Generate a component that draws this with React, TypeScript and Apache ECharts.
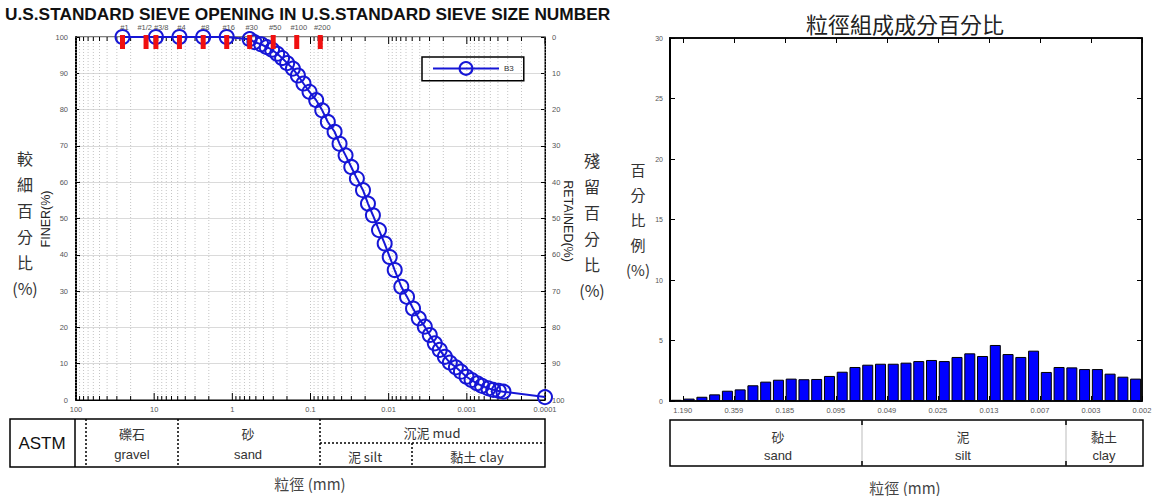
import React, { useEffect, useRef } from 'react';
import * as echarts from 'echarts';

const FONT = "'Liberation Sans', Arial, 'Noto Sans CJK TC', sans-serif";
const CJK = "'Noto Sans CJK TC', 'Liberation Sans', sans-serif";

// ---- left chart: grain size distribution curve ----
const sieveNames = ['#1', '#1/2', '#3/8', '#4', '#8', '#16', '#30', '#50', '#100', '#200'];
const sieveSizes = [25.4, 12.7, 9.5, 4.75, 2.36, 1.18, 0.6, 0.3, 0.15, 0.075];

const finerSize = [25.4, 9.5, 4.75, 2.36, 1.18, 0.6, 0.522, 0.428, 0.363, 0.31, 0.267, 0.231, 0.199, 0.168, 0.145,
  0.123, 0.103, 0.0846, 0.0708, 0.06, 0.0492, 0.0425, 0.0356, 0.0301, 0.0255, 0.0213, 0.0184, 0.0159, 0.0133,
  0.01125, 0.0097, 0.00837, 0.00689, 0.00582, 0.00488, 0.00412, 0.00345, 0.00298, 0.00257, 0.00222, 0.00191,
  0.00165, 0.00138, 0.00119, 0.00101, 0.00087, 0.00074, 0.00064, 0.00053, 0.00046, 0.00039, 0.00034, 0.0001];
const finerPct = [100, 100, 100, 100, 100, 99.4, 98.6, 98.0, 97.2, 96.5, 95.4, 94.2, 92.8, 91.3, 89.4, 87.2, 84.9,
  82.6, 79.8, 76.6, 73.9, 70.6, 67.4, 64.2, 61.0, 57.8, 54.1, 50.9, 46.8, 43.1, 39.4, 35.8, 31.2, 28.4, 25.2, 22.5,
  20.2, 17.9, 15.6, 13.8, 11.9, 10.3, 9.0, 7.8, 6.4, 5.5, 4.6, 3.9, 3.2, 2.8, 2.5, 2.3, 0.8];

const leftXTicks = [100, 10, 1, 0.1, 0.01, 0.001, 0.0001];
const leftXTickLabels = ['100', '10', '1', '0.1', '0.01', '0.001', '0.0001'];
const decadeExps = [-4, -3, -2, -1, 0, 1];

// ---- right chart: composition histogram ----
const binPercent = [0.1, 0.2, 0.35, 0.55, 0.85, 0.96, 1.3, 1.6, 1.76, 1.85, 1.8, 1.82, 2.07, 2.42, 2.81, 3.0, 3.08,
  3.08, 3.17, 3.3, 3.39, 3.3, 3.64, 3.94, 3.72, 4.63, 3.88, 3.64, 4.16, 2.4, 2.81, 2.78, 2.64, 2.64, 2.26, 2.01, 1.85];
const binTickLabels = ['1.190', '0.359', '0.185', '0.095', '0.049', '0.025', '0.013', '0.007', '0.003', '0.002'];
const binTickStep = 4;

const minorGrid: number[][] = [];
decadeExps.forEach((e) => {
  for (let m = 1; m <= 9; m++) minorGrid.push([m * Math.pow(10, e), 0, m === 1 ? 1 : 0]);
});
minorGrid.push([100, 0, 1]);

const binTickPos = binTickLabels.map((_, i) => i * binTickStep);

function leftLabel(v: number) {
  const idx = leftXTicks.findIndex((t) => Math.abs(Math.log10(t) - Math.log10(v)) < 1e-6);
  return idx >= 0 ? leftXTickLabels[idx] : '';
}
function binLabel(v: number) {
  const idx = binTickPos.findIndex((p) => Math.abs(p - v) < 1e-6);
  return idx >= 0 ? binTickLabels[idx] : '';
}

const txt = (x: number, y: number, text: string, size: number, extra: any = {}) => ({
  type: 'text', x, y, silent: true,
  style: { text, fontSize: size, fontFamily: extra.family || FONT, fill: extra.fill || '#333',
    align: extra.align || 'center', verticalAlign: extra.va || 'middle', fontWeight: extra.weight || 'normal',
    lineHeight: extra.lh },
  rotation: extra.rot || 0,
});
const ln = (x1: number, y1: number, x2: number, y2: number, extra: any = {}) => ({
  type: 'line', silent: true, shape: { x1, y1, x2, y2 },
  style: { stroke: extra.stroke || '#000', lineWidth: extra.w || 1.5, lineDash: extra.dash },
});

const graphics: any[] = [
  txt(5, 14, 'U.S.STANDARD SIEVE OPENING IN U.S.STANDARD SIEVE SIZE NUMBER', 17.3, { align: 'left', weight: 'bold', fill: '#111' }),
  txt(905, 23, '粒徑組成成分百分比', 22, { family: CJK, fill: '#222' }),
  // left chart side labels
  txt(25, 145, '較\n細\n百\n分\n比\n(%)', 16, { family: CJK, va: 'top', lh: 26, fill: '#333' }),
  txt(46, 219, 'FINER(%)', 12.5, { rot: Math.PI / 2, fill: '#222' }),
  txt(568, 221, 'RETAINED(%)', 12.5, { rot: -Math.PI / 2, fill: '#222' }),
  txt(592, 147, '殘\n留\n百\n分\n比\n(%)', 16, { family: CJK, va: 'top', lh: 26, fill: '#333' }),
  txt(638, 157, '百\n分\n比\n例\n(%)', 15, { family: CJK, va: 'top', lh: 25, fill: '#333' }),
  // left ASTM table
  { type: 'rect', silent: true, shape: { x: 10, y: 419, width: 535, height: 48 }, style: { fill: 'none', stroke: '#000', lineWidth: 1.5 } },
  ln(75, 419, 75, 467),
  ln(86, 419, 86, 467, { dash: [2, 2] }),
  ln(178, 419, 178, 467, { dash: [2, 2] }),
  ln(320, 419, 320, 467, { dash: [2, 2] }),
  ln(412, 443, 412, 467, { dash: [2, 2] }),
  ln(320, 443, 545, 443, { dash: [2, 2] }),
  txt(42, 443, 'ASTM', 17, { fill: '#111' }),
  txt(132, 433, '礫石', 13, { family: CJK }),
  txt(132, 454, 'gravel', 13),
  txt(248, 433, '砂', 13, { family: CJK }),
  txt(248, 454, 'sand', 13),
  txt(432, 432, '沉泥 mud', 13, { family: CJK }),
  txt(365, 456, '泥 silt', 13, { family: CJK }),
  txt(477, 456, '黏土 clay', 13, { family: CJK }),
  txt(310, 483, '粒徑 (mm)', 15, { family: CJK, fill: '#444' }),
  // right table
  { type: 'rect', silent: true, shape: { x: 670, y: 420, width: 473, height: 46 }, style: { fill: 'none', stroke: '#000', lineWidth: 1.5 } },
  ln(862, 420, 862, 466, { stroke: '#bbb', w: 1 }),
  ln(1066, 420, 1066, 466, { stroke: '#bbb', w: 1 }),
  ln(862, 420, 862, 425), ln(862, 461, 862, 466),
  ln(1066, 420, 1066, 425), ln(1066, 461, 1066, 466),
  txt(778, 436, '砂', 13, { family: CJK }),
  txt(778, 455, 'sand', 13),
  txt(963, 436, '泥', 13, { family: CJK }),
  txt(963, 455, 'silt', 13),
  txt(1104, 436, '黏土', 13, { family: CJK }),
  txt(1104, 455, 'clay', 13),
  txt(905, 487, '粒徑 (mm)', 15, { family: CJK, fill: '#444' }),
];

const smallLabel = { fontSize: 7.5, color: '#555', fontFamily: FONT };

const option: any = {
  animation: false,
  backgroundColor: '#fff',
  textStyle: { fontFamily: FONT },
  grid: [
    { left: 76, top: 37, width: 469, height: 363, show: true, borderColor: '#000', borderWidth: 1 },
    { left: 670, top: 38, width: 472, height: 363, show: true, borderColor: '#000', borderWidth: 1.5 },
  ],
  legend: {
    data: ['B3'], left: 422, top: 57, orient: 'horizontal',
    borderColor: '#000', borderWidth: 1.5, padding: [4, 10, 5, 10],
    itemWidth: 66, itemHeight: 16, itemGap: 5,
    textStyle: { fontSize: 8, color: '#333' },
  },
  xAxis: [
    {
      gridIndex: 0, type: 'log', logBase: 10, min: 0.0001, max: 100, inverse: true, splitNumber: 6,
      axisLine: { onZero: false, lineStyle: { color: '#000', width: 1 } }, axisTick: { show: false }, splitLine: { show: false },
      axisLabel: { ...smallLabel, margin: 6, formatter: (v: number) => leftLabel(v) },
    },
    {
      gridIndex: 1, type: 'value', min: -1, max: 36,
      axisLine: { onZero: false, lineStyle: { color: '#000', width: 1.5 } },
      axisTick: { inside: true, length: 5, customValues: binTickPos, lineStyle: { color: '#000' } },
      axisLabel: { ...smallLabel, margin: 6, customValues: binTickPos, formatter: (v: number) => binLabel(v) },
      splitLine: { show: false },
    },
    {
      gridIndex: 1, type: 'value', min: -1, max: 36, position: 'top',
      axisLine: { onZero: false, lineStyle: { color: '#000', width: 1.5 } },
      axisTick: { inside: true, length: 5, customValues: binTickPos, lineStyle: { color: '#000' } },
      axisLabel: { show: false }, splitLine: { show: false },
    },
  ],
  yAxis: [
    {
      gridIndex: 0, type: 'value', min: 0, max: 100, interval: 10, position: 'left',
      axisLine: { show: true, onZero: false, lineStyle: { color: '#000', width: 2 } },
      axisTick: { inside: true, length: 4, lineStyle: { color: '#000' } },
      axisLabel: { ...smallLabel, margin: 8 },
      splitLine: { show: true, lineStyle: { color: '#dadada', width: 1 } },
    },
    {
      gridIndex: 0, type: 'value', min: 0, max: 100, interval: 10, position: 'right', inverse: true,
      axisLine: { show: true, onZero: false, lineStyle: { color: '#000', width: 1 } },
      axisTick: { inside: true, length: 4, lineStyle: { color: '#000' } },
      axisLabel: { ...smallLabel, margin: 7 },
      splitLine: { show: false },
    },
    {
      gridIndex: 1, type: 'value', min: 0, max: 30, interval: 5, position: 'left',
      axisLine: { show: true, onZero: false, lineStyle: { color: '#000', width: 2 } },
      axisTick: { inside: true, length: 5, lineStyle: { color: '#000' } },
      axisLabel: { ...smallLabel, fontSize: 7, margin: 7 },
      splitLine: { show: false },
    },
    {
      gridIndex: 1, type: 'value', min: 0, max: 30, interval: 5, position: 'right',
      axisLine: { show: true, onZero: false, lineStyle: { color: '#000', width: 1.5 } },
      axisTick: { inside: true, length: 5, lineStyle: { color: '#000' } },
      axisLabel: { show: false }, splitLine: { show: false },
    },
  ],
  series: [
    {
      type: 'custom', xAxisIndex: 0, yAxisIndex: 0, z: 1, silent: true, clip: false,
      data: minorGrid,
      renderItem: (params: any, api: any) => {
        const x = api.value(0);
        const top = api.coord([x, 100]);
        const bot = api.coord([x, 0]);
        const major = api.value(2) === 1;
        const tl = major ? 7 : 4;
        return {
          type: 'group', children: [
            { type: 'line', shape: { x1: top[0], y1: top[1], x2: bot[0], y2: bot[1] }, style: { stroke: '#c4c4c4', lineWidth: 1, lineDash: [1, 2] } },
            { type: 'line', shape: { x1: bot[0], y1: bot[1], x2: bot[0], y2: bot[1] - tl }, style: { stroke: '#000', lineWidth: 1 } },
            { type: 'line', shape: { x1: top[0], y1: top[1], x2: top[0], y2: top[1] + tl }, style: { stroke: '#000', lineWidth: 1 } },
          ],
        };
      },
    },
    {
      type: 'line', name: 'B3', xAxisIndex: 0, yAxisIndex: 0, z: 3,
      data: finerSize.map((s, i) => [s, finerPct[i]]),
      symbol: 'circle', symbolSize: 14,
      lineStyle: { color: '#1616d6', width: 2 },
      itemStyle: { color: 'rgba(255,255,255,0)', borderColor: '#1616d6', borderWidth: 2 },
    },
    {
      type: 'custom', xAxisIndex: 0, yAxisIndex: 0, z: 5, silent: true, clip: false,
      data: sieveSizes.map((s, i) => [s, 100, i]),
      renderItem: (params: any, api: any) => {
        const p = api.coord([api.value(0), 100]);
        const name = sieveNames[api.value(2)];
        let align = 'center';
        let dx = 2;
        if (name === '#1/2') { align = 'right'; dx = 6; }
        if (name === '#3/8') { align = 'left'; dx = -2; }
        return {
          type: 'group', children: [
            { type: 'rect', shape: { x: p[0] - 2.5, y: p[1] - 2, width: 5, height: 14 }, style: { fill: '#f01010' } },
            { type: 'text', style: { text: name, x: p[0] + dx, y: p[1] - 6, fill: '#555', fontSize: 7.5, fontFamily: FONT, align, verticalAlign: 'bottom' } },
          ],
        };
      },
    },
    {
      type: 'bar', xAxisIndex: 1, yAxisIndex: 2,
      data: binPercent.map((v, i) => [i - 0.5, v]),
      barWidth: 11,
      itemStyle: { color: '#0000ff', borderColor: '#000', borderWidth: 1 },
    },
  ],
  graphic: graphics,
};

export default function App() {
  const ref = useRef<HTMLDivElement>(null);
  useEffect(() => {
    const chart = echarts.init(ref.current as HTMLDivElement, null, { renderer: 'svg' });
    chart.setOption(option);
    return () => chart.dispose();
  }, []);
  return <div ref={ref} style={{ position: 'absolute', left: 0, top: 0, width: 1161, height: 496, background: '#fff' }} />;
}
